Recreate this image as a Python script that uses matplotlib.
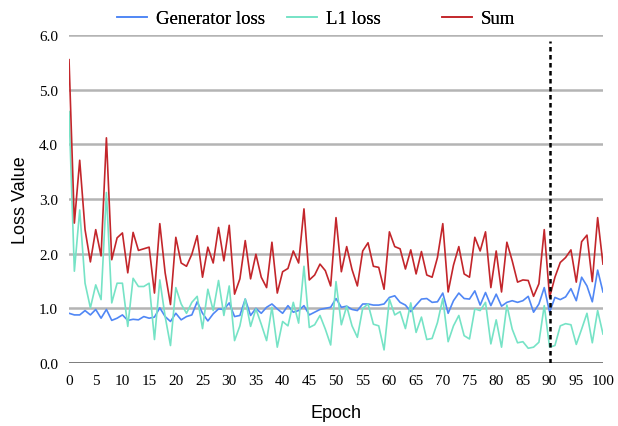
import numpy as np
import matplotlib
matplotlib.use("Agg")
import matplotlib.pyplot as plt

# values
epochs = np.arange(0, 101)

gen_loss = [0.91, 0.88, 0.88, 0.96, 0.88, 0.98, 0.82, 0.98, 0.78, 0.82,
            0.88, 0.78, 0.80, 0.79, 0.85, 0.82, 0.84, 1.01, 0.85, 0.76,
            0.91, 0.79, 0.85, 0.88, 1.12, 0.91, 0.77, 0.90, 0.99, 0.98,
            1.10, 0.85, 0.87, 1.17, 0.87, 1.00, 0.91, 1.02, 1.08, 0.99,
            0.91, 1.05, 0.93, 0.96, 1.05, 0.88, 0.93, 0.98, 1.00, 1.02,
            1.18, 1.02, 1.04, 0.98, 0.96, 1.08, 1.08, 1.06, 1.06, 1.08,
            1.20, 1.23, 1.11, 1.06, 0.94, 1.06, 1.17, 1.18, 1.11, 1.12,
            1.28, 0.91, 1.14, 1.28, 1.18, 1.17, 1.32, 1.06, 1.29, 1.05,
            1.26, 1.04, 1.11, 1.14, 1.11, 1.14, 1.22, 0.93, 1.08, 1.38,
            0.93, 1.20, 1.16, 1.21, 1.36, 1.14, 1.57, 1.41, 1.12, 1.70,
            1.30]

l1_loss = [4.60, 1.68, 2.80, 1.46, 1.01, 1.43, 1.16, 3.12, 1.10, 1.46,
           1.46, 0.67, 1.55, 1.40, 1.40, 1.46, 0.43, 1.52, 0.85, 0.32,
           1.38, 1.08, 0.91, 1.11, 1.22, 0.63, 1.35, 0.96, 1.51, 0.87,
           1.41, 0.41, 0.68, 1.17, 0.67, 0.99, 0.71, 0.41, 1.02, 0.29,
           0.76, 0.68, 1.11, 0.73, 1.77, 0.65, 0.70, 0.87, 0.62, 0.33,
           1.49, 0.70, 1.04, 0.68, 0.47, 1.00, 1.08, 0.71, 0.68, 0.24,
           1.17, 0.88, 0.94, 0.63, 1.10, 0.56, 0.84, 0.43, 0.45, 0.74,
           1.18, 0.39, 0.68, 0.87, 0.50, 0.44, 0.99, 0.96, 1.11, 0.35,
           0.79, 0.29, 1.06, 0.62, 0.37, 0.39, 0.27, 0.29, 0.38, 1.05,
           0.29, 0.32, 0.68, 0.72, 0.70, 0.34, 0.62, 0.91, 0.37, 0.96,
           0.53]

sum_loss = [5.55, 2.56, 3.71, 2.44, 1.85, 2.44, 1.96, 4.12, 1.89, 2.29,
            2.38, 1.65, 2.39, 2.06, 2.09, 2.12, 1.28, 2.55, 1.65, 1.07,
            2.30, 1.83, 1.77, 1.99, 2.33, 1.57, 2.12, 1.83, 2.48, 1.87,
            2.52, 1.26, 1.54, 2.24, 1.54, 1.99, 1.57, 1.38, 2.21, 1.28,
            1.67, 1.73, 2.05, 1.83, 2.82, 1.52, 1.61, 1.81, 1.69, 1.41,
            2.66, 1.67, 2.13, 1.71, 1.41, 2.05, 2.20, 1.77, 1.75, 1.35,
            2.40, 2.13, 2.09, 1.72, 2.07, 1.63, 2.04, 1.61, 1.57, 1.93,
            2.55, 1.30, 1.79, 2.13, 1.63, 1.57, 2.30, 2.05, 2.40, 1.38,
            2.05, 1.30, 2.21, 1.87, 1.48, 1.52, 1.51, 1.22, 1.45, 2.44,
            1.20, 1.57, 1.84, 1.93, 2.07, 1.48, 2.22, 2.34, 1.49, 2.66,
            1.81]

split_epoch = 90
y_ticks = np.arange(0, 7, 1.0)
x_ticks = np.arange(0, 101, 5)

serif = "Liberation Serif"
sans = "Liberation Sans"

fig = plt.figure(figsize=(6.18, 4.27), dpi=100)
ax = fig.add_axes([0.1117, 0.1475, 0.864, 0.768])

for y in y_ticks[1:]:
    ax.axhline(y, color="#b4b4b4", linewidth=1.8, zorder=0)
ax.axhline(0, color="#666666", linewidth=1.2, zorder=0)

l_gen, = ax.plot(epochs, gen_loss, color="#5087f5", linewidth=1.2, label="Generator loss")
l_l1, = ax.plot(epochs, l1_loss, color="#76e3c6", linewidth=1.2, label="L1 loss")
l_sum, = ax.plot(epochs, sum_loss, color="#c3262b", linewidth=1.2, label="Sum")

ax.plot([split_epoch, split_epoch], [0, 5.9], color="black", linewidth=1.8,
        linestyle=(0, (1.8, 1.4)), zorder=5)

ax.set_xlim(0, 100)
ax.set_ylim(0, 6)
ax.set_xticks(x_ticks)
ax.set_yticks(y_ticks)
ax.set_xticklabels([str(t) for t in x_ticks], family=serif, fontsize=11)
ax.set_yticklabels(["%.1f" % t for t in y_ticks], family=serif, fontsize=11)
ax.tick_params(length=0, pad=8)
for s in ax.spines.values():
    s.set_visible(False)

ax.set_xlabel("Epoch", family=sans, fontsize=13, labelpad=12)
ax.set_ylabel("Loss Value", family=sans, fontsize=13, labelpad=7)

# one legend box per entry, spaced like the original
for handle, x0 in [(l_gen, 0.190), (l_l1, 0.465), (l_sum, 0.716)]:
    leg = fig.legend(handles=[handle], loc="upper left", bbox_to_anchor=(x0, 0.974),
                     frameon=False, prop={"family": serif, "size": 13.5},
                     handlelength=1.6, handletextpad=0.45, borderpad=0, borderaxespad=0)
    fig.add_artist(leg)

fig.savefig("out.png", dpi=100)
